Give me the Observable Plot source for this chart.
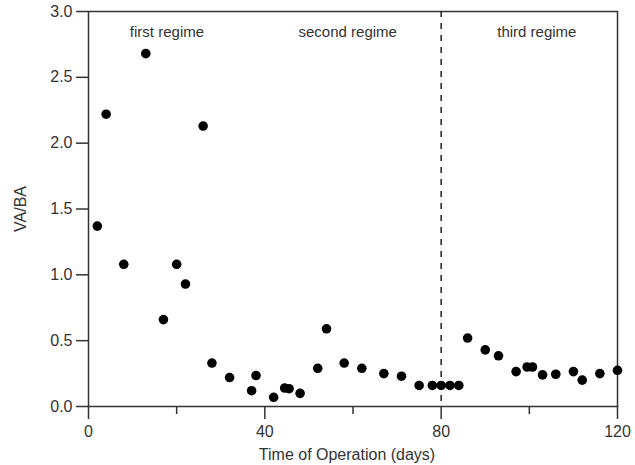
<!DOCTYPE html>
<html>
<head>
<meta charset="utf-8">
<script src="https://cdn.jsdelivr.net/npm/d3@7"></script>
<script src="https://cdn.jsdelivr.net/npm/@observablehq/plot@0.6"></script>
<style>
  html, body { margin: 0; padding: 0; background: #fff; }
  #chart svg { display: block; }
</style>
</head>
<body>
<div id="chart"></div>
<script>
// Data
const days = [2,4,8,13,17,20,22,26,28,32,37,38,42,44.5,45.5,48,52,54,58,62,67,71,75,78,80,82,84,86,90,93,97,99.5,100.7,103,106,110,112,116,120];
const vaba = [1.37,2.22,1.08,2.68,0.66,1.08,0.93,2.13,0.33,0.22,0.12,0.235,0.07,0.14,0.135,0.10,0.29,0.59,0.33,0.29,0.25,0.23,0.16,0.16,0.16,0.16,0.16,0.52,0.43,0.385,0.265,0.30,0.30,0.24,0.245,0.265,0.20,0.25,0.275];

const xMajorTicks = [0, 40, 80, 120];
const xMinorTicks = [20, 60, 100];
const yTicks = [0, 0.5, 1.0, 1.5, 2.0, 2.5, 3.0];

const regimeLabels = ["first regime", "second regime", "third regime"];
const regimeX = [17.8, 58.8, 101.7];
const regimeY = [2.84, 2.84, 2.84];

const boundaryDay = [80];

const xTitle = "Time of Operation (days)";
const yTitle = "VA/BA";

const points = days.map((d, i) => ({day: d, ratio: vaba[i]}));
const regimes = regimeLabels.map((t, i) => ({label: t, x: regimeX[i], y: regimeY[i]}));

const font = "'Liberation Sans', Arial, Helvetica, sans-serif";

const chart = Plot.plot({
  width: 635,
  height: 465,
  marginLeft: 88,
  marginRight: 18,
  marginTop: 11,
  marginBottom: 59,
  style: {fontFamily: font, fontSize: "16px", color: "#333", background: "#fff"},
  x: {domain: [0, 120]},
  y: {domain: [0, 3]},
  marks: [
    Plot.frame({stroke: "#333", strokeWidth: 1.5}),
    Plot.axisY({ticks: yTicks, tickSize: 12, tickPadding: 4, tickFormat: d3.format(".1f"), label: null, fontSize: 16, stroke: "#333", strokeWidth: 1.5}),
    Plot.axisX({ticks: xMajorTicks, tickSize: 13, tickPadding: 6, tickFormat: d3.format("d"), label: null, fontSize: 16, stroke: "#333", strokeWidth: 1.5}),
    Plot.axisX({ticks: xMinorTicks, tickSize: 8, tickFormat: () => "", label: null, stroke: "#333", strokeWidth: 1.5}),
    Plot.ruleX(boundaryDay, {stroke: "#222", strokeWidth: 1.5, strokeDasharray: "6,6"}),
    Plot.dot(points, {x: "day", y: "ratio", r: 4.8, fill: "#000", stroke: "none"}),
    Plot.text(regimes, {x: "x", y: "y", text: "label", fontSize: 15, fill: "#333"}),
    Plot.text([xTitle], {frameAnchor: "bottom", textAnchor: "middle", lineAnchor: "middle", dy: 48, dx: -6, fontSize: 16, fill: "#333"}),
    Plot.text([yTitle], {frameAnchor: "left", textAnchor: "middle", lineAnchor: "middle", dx: -68, rotate: -90, fontSize: 16, fill: "#333"})
  ]
});

document.getElementById("chart").appendChild(chart);
</script>
</body>
</html>
